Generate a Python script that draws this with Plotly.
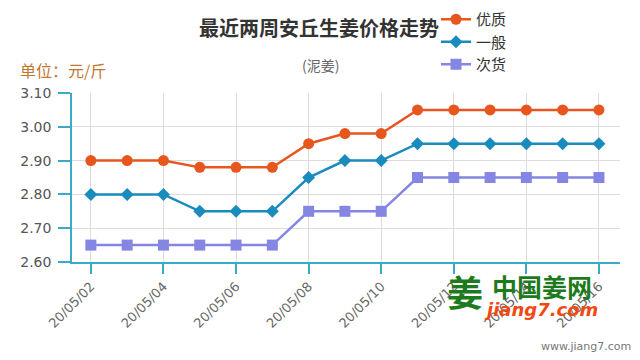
import plotly.graph_objects as go

dates = ["20/05/02", "20/05/03", "20/05/04", "20/05/05", "20/05/06", "20/05/07", "20/05/08",
         "20/05/09", "20/05/10", "20/05/11", "20/05/12", "20/05/13", "20/05/14", "20/05/15", "20/05/16"]
youzhi = [2.90, 2.90, 2.90, 2.88, 2.88, 2.88, 2.95, 2.98, 2.98, 3.05, 3.05, 3.05, 3.05, 3.05, 3.05]
yiban = [2.80, 2.80, 2.80, 2.75, 2.75, 2.75, 2.85, 2.90, 2.90, 2.95, 2.95, 2.95, 2.95, 2.95, 2.95]
cihuo = [2.65, 2.65, 2.65, 2.65, 2.65, 2.65, 2.75, 2.75, 2.75, 2.85, 2.85, 2.85, 2.85, 2.85, 2.85]
y_ticks = [2.60, 2.70, 2.80, 2.90, 3.00, 3.10]

FONT = "Noto Sans CJK SC"
NUMFONT = "DejaVu Sans"
AXIS = "#3aaac6"
idx = list(range(len(dates)))

# the page body adds an 8px offset; size the figure to fit the window
OFF = 8
W, H = 640 - OFF, 360 - OFF
l, r, t, b = 72 - OFF, 20, 93 - OFF, 98
PW, PH = W - l - r, H - t - b

fig = go.Figure()
series = [
    ("优质", youzhi, "#e8561f", "circle", 11),
    ("一般", yiban, "#1a8bbd", "diamond", 10),
    ("次货", cihuo, "#8585e4", "square", 11),
]
for name, vals, col, sym, sz in series:
    fig.add_trace(go.Scatter(
        x=idx, y=vals, name=name, mode="lines+markers",
        line=dict(color=col, width=2.5),
        marker=dict(symbol=sym, size=sz, color=col),
    ))


def px2paper(px, py):
    return (px - OFF - l) / PW, (H - b - (py - OFF)) / PH


def ann(text, px, py, size, color, family=FONT, xanchor="center"):
    x, y = px2paper(px, py)
    return dict(text=text, xref="paper", yref="paper", x=x, y=y,
                xanchor=xanchor, yanchor="middle", showarrow=False,
                font=dict(size=size, color=color, family=family))


lx, ly = px2paper(436, 3)
fig.update_layout(
    width=W, height=H,
    margin=dict(l=l, r=r, t=t, b=b, autoexpand=False),
    paper_bgcolor="white", plot_bgcolor="white",
    font=dict(family=FONT, color="#555"),
    showlegend=True,
    legend=dict(x=lx, y=ly, xanchor="left", yanchor="top",
                font=dict(size=15, color="#333", family=FONT),
                bgcolor="rgba(0,0,0,0)", tracegroupgap=0, itemwidth=30),
    xaxis=dict(
        range=[-0.52, 14.58], automargin=False,
        tickmode="array", tickvals=idx[::2], ticktext=dates[::2],
        tickangle=-45, tickfont=dict(size=13, color="#666", family=NUMFONT),
        showgrid=True, gridcolor="#dddddd", gridwidth=1,
        showline=True, linecolor=AXIS, linewidth=1.5,
        ticks="outside", ticklen=10, tickcolor=AXIS, tickwidth=1.5,
        zeroline=False,
    ),
    yaxis=dict(
        range=[2.60, 3.10], automargin=False,
        tickmode="array", tickvals=y_ticks, ticktext=[f"{v:.2f}" for v in y_ticks],
        tickfont=dict(size=14, color="#555", family=NUMFONT),
        ticklabelstandoff=4,
        showgrid=True, gridcolor="#dddddd", gridwidth=1,
        showline=True, linecolor=AXIS, linewidth=1.5,
        ticks="outside", ticklen=12, tickcolor=AXIS, tickwidth=1.5,
        zeroline=False,
    ),
    annotations=[
        ann("<b>最近两周安丘生姜价格走势</b>", 319, 27, 20, "#333"),
        ann("(泥姜)", 320, 65, 14, "#666"),
        ann("单位：元/斤", 18, 70, 16, "#c0772f", xanchor="left"),
        ann("<b>姜</b>", 465, 291, 36, "#1d7a1d"),
        ann("<b>中国姜网</b>", 542, 286, 25, "#1d7a1d"),
        ann("<b><i>jiang7.com</i></b>", 541, 309, 18, "#f04a10", family="DejaVu Sans"),
        ann("www.jiang7.com", 633, 346, 11, "#777", family="DejaVu Sans", xanchor="right"),
    ],
)

fig.write_html("out.html")
